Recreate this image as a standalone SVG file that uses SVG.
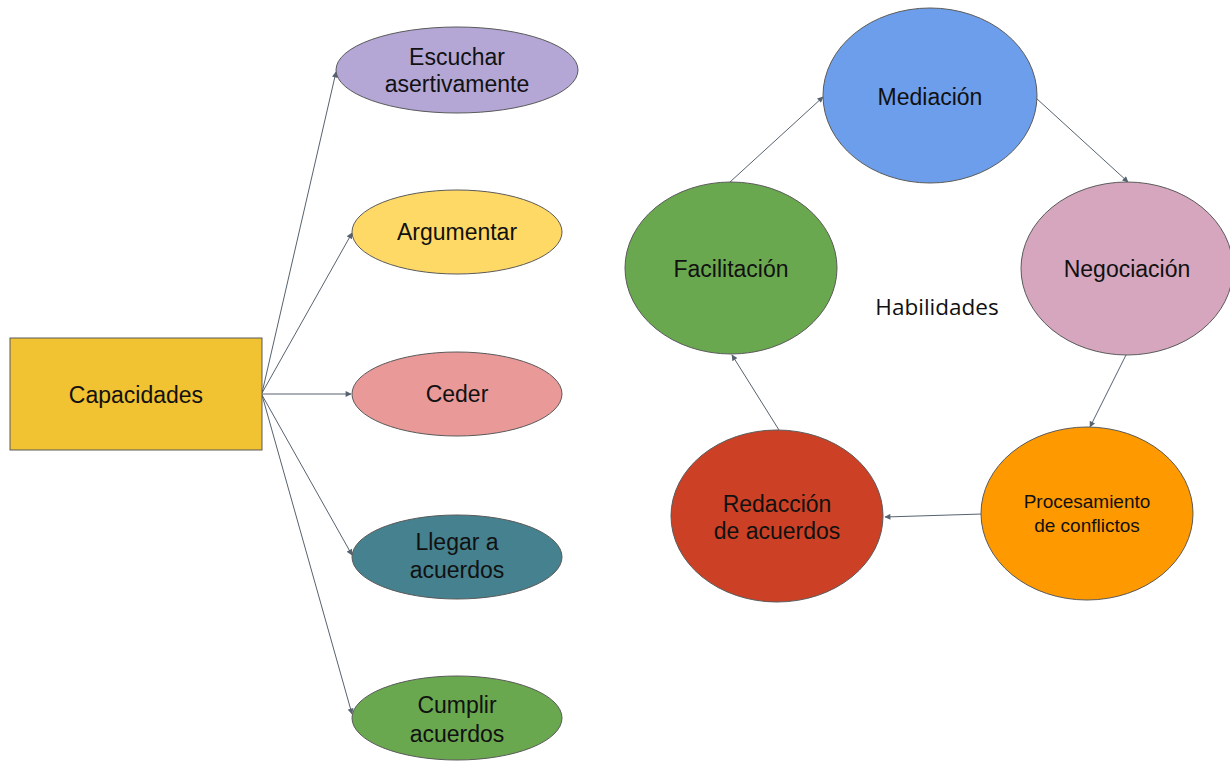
<svg xmlns="http://www.w3.org/2000/svg" width="1230" height="762" viewBox="0 0 1230 762">
  <style>
    .node { stroke: #5a5a5a; stroke-width: 1; }
    .lbl { font-family: "Liberation Sans", Arial, sans-serif; font-size: 23px; fill: #111; text-anchor: middle; }
    .small { font-size: 19px; }
    .title { font-family: "Open Sans", "Liberation Sans", sans-serif; font-size: 22.5px; fill: #111; text-anchor: middle; }
    .edge { stroke: #56626f; stroke-width: 1; fill: none; marker-end: url(#arrow); }
  </style>
  <defs>
    <marker id="arrow" viewBox="0 0 10 10" refX="9" refY="5" markerWidth="7" markerHeight="6" markerUnits="userSpaceOnUse" orient="auto">
      <path d="M0,0 L10,5 L0,10 z" fill="#56626f"/>
    </marker>
  </defs>
  <rect width="1230" height="762" fill="#ffffff"/>

  <!-- connectors -->
  <g id="connectors">
    <line class="edge" x1="262" y1="393" x2="336" y2="72"/>
    <line class="edge" x1="262" y1="393" x2="352" y2="233"/>
    <line class="edge" x1="262" y1="394" x2="351" y2="394"/>
    <line class="edge" x1="262" y1="395" x2="352" y2="555"/>
    <line class="edge" x1="262" y1="395" x2="352" y2="714"/>

    <line class="edge" x1="730" y1="182" x2="823" y2="97"/>
    <line class="edge" x1="1036" y1="98" x2="1128" y2="182"/>
    <line class="edge" x1="1126" y1="355" x2="1090" y2="427"/>
    <line class="edge" x1="982" y1="514" x2="885" y2="517"/>
    <line class="edge" x1="779" y1="430" x2="732" y2="355"/>
  </g>

  <!-- capacities -->
  <g id="capacidades">
    <rect class="node" x="10" y="338" width="252" height="112" fill="#f1c232"/>
    <text class="lbl" x="136" y="403">Capacidades</text>
  </g>
  <g id="escuchar">
    <ellipse class="node" cx="457" cy="70" rx="121" ry="43" fill="#b4a7d6"/>
    <text class="lbl" x="457" y="65">Escuchar</text>
    <text class="lbl" x="457" y="92">asertivamente</text>
  </g>
  <g id="argumentar">
    <ellipse class="node" cx="457" cy="232" rx="105" ry="42" fill="#ffd966"/>
    <text class="lbl" x="457" y="240">Argumentar</text>
  </g>
  <g id="ceder">
    <ellipse class="node" cx="457" cy="394" rx="105" ry="42" fill="#ea9999"/>
    <text class="lbl" x="457" y="402">Ceder</text>
  </g>
  <g id="llegar">
    <ellipse class="node" cx="457" cy="557" rx="105" ry="42" fill="#45818e"/>
    <text class="lbl" x="457" y="550">Llegar a</text>
    <text class="lbl" x="457" y="578">acuerdos</text>
  </g>
  <g id="cumplir">
    <ellipse class="node" cx="457" cy="718" rx="105" ry="42" fill="#6aa84f"/>
    <text class="lbl" x="457" y="713">Cumplir</text>
    <text class="lbl" x="457" y="742">acuerdos</text>
  </g>

  <!-- skills cycle -->
  <g id="mediacion">
    <ellipse class="node" cx="930" cy="95.5" rx="107" ry="87.5" fill="#6d9eeb"/>
    <text class="lbl" x="930" y="105">Mediación</text>
  </g>
  <g id="negociacion">
    <ellipse class="node" cx="1127" cy="268.5" rx="106" ry="86.5" fill="#d5a6bd"/>
    <text class="lbl" x="1127" y="277">Negociación</text>
  </g>
  <g id="procesamiento">
    <ellipse class="node" cx="1087" cy="513.5" rx="106" ry="86.5" fill="#ff9900"/>
    <text class="lbl small" x="1087" y="508">Procesamiento</text>
    <text class="lbl small" x="1087" y="532">de conflictos</text>
  </g>
  <g id="redaccion">
    <ellipse class="node" cx="777" cy="516" rx="106" ry="86" fill="#cc4125"/>
    <text class="lbl" x="777" y="512">Redacción</text>
    <text class="lbl" x="777" y="539">de acuerdos</text>
  </g>
  <g id="facilitacion">
    <ellipse class="node" cx="731" cy="268" rx="106" ry="86" fill="#6aa84f"/>
    <text class="lbl" x="731" y="277">Facilitación</text>
  </g>
  <g id="habilidades">
    <text class="title" x="937" y="315">Habilidades</text>
  </g>
</svg>
